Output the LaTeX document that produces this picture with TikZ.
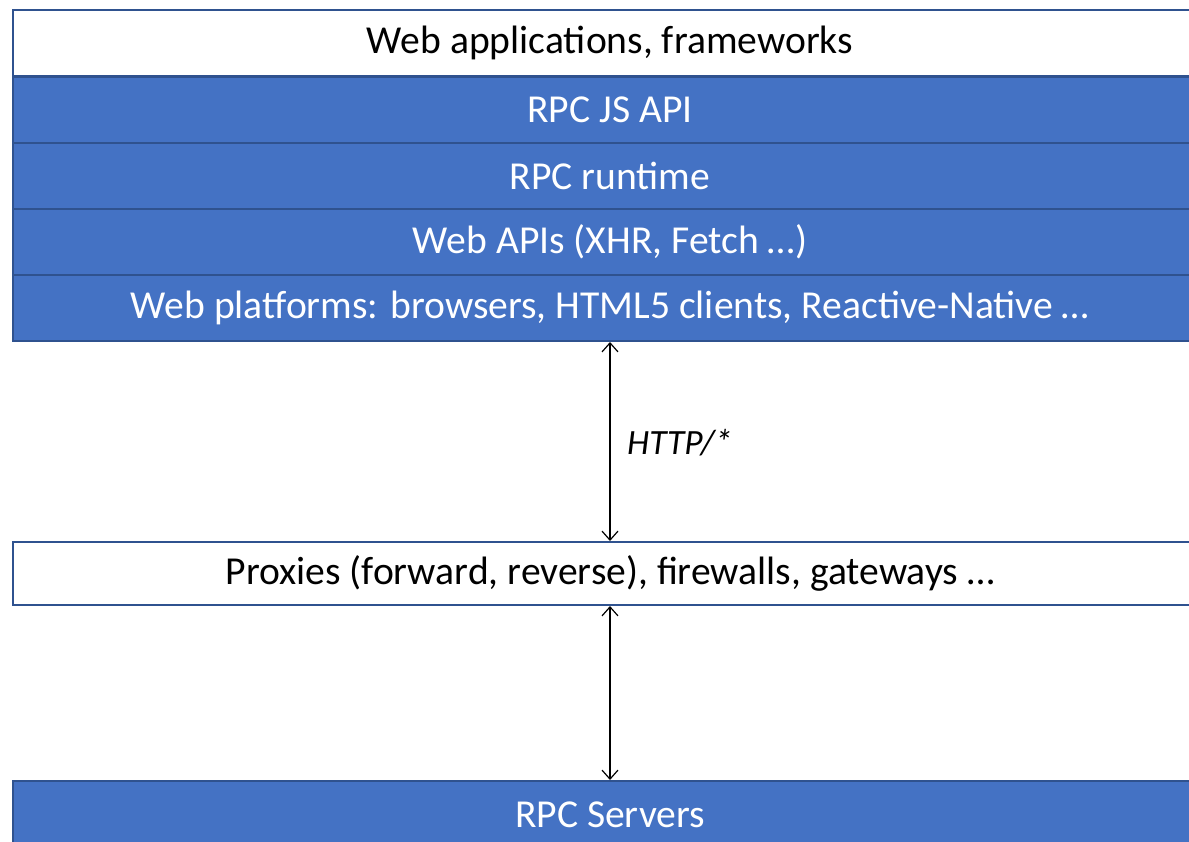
\documentclass[tikz,border=0pt]{standalone}
\usepackage{fontspec}
\setmainfont{Carlito}
\usetikzlibrary{arrows.meta}
\definecolor{boxfill}{HTML}{4472C4}
\definecolor{boxline}{HTML}{2F528F}
\tikzset{
  layer/.style={draw=boxline, line width=2pt, minimum width=1194pt, inner sep=0pt,
    font=\fontsize{39.6}{44}\selectfont, anchor=center},
  bluelayer/.style={layer, fill=boxfill, text=white},
  whitelayer/.style={layer, fill=white, text=black},
  link/.style={line width=1.2pt, {Straight Barb[length=9pt,width=16pt]}-{Straight Barb[length=9pt,width=16pt]}},
  proto/.style={font=\fontsize{35.5}{40}\selectfont\itshape, anchor=west, inner sep=0pt}
}
\begin{document}
\begin{tikzpicture}[x=1pt,y=-1pt]
\useasboundingbox (0,0) rectangle (1189,841);
\begin{scope}
\clip (0,0) rectangle (1189,841);
\node[whitelayer, minimum height=66pt] (app) at (610,43) {Web applications, frameworks};
\node[bluelayer, minimum height=66pt] (js) at (610,109.5) {RPC JS API};
\node[bluelayer, minimum height=66pt] (rt) at (610,176) {RPC runtime};
\node[bluelayer, minimum height=66pt] (wapi) at (610,242) {Web APIs (XHR, Fetch …)};
\node[bluelayer, minimum height=66pt] (plat) at (610,308) {Web platforms: browsers, HTML5 clients, Reactive-Native …};
\node[whitelayer, minimum height=63pt] (prox) at (610,573.5) {Proxies (forward, reverse), firewalls, gateways …};
\node[bluelayer, minimum height=68pt] (srv) at (610,815) {RPC Servers};
\end{scope}
\draw[link] (plat.south) -- (prox.north);
\draw[link] (prox.south) -- (srv.north);
\node[proto] (http) at (627,443) {HTTP/*};
\end{tikzpicture}
\end{document}
